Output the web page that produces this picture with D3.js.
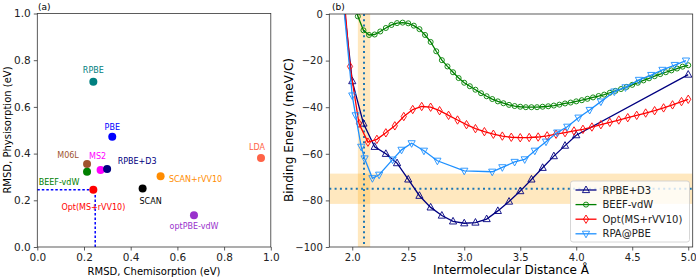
<!DOCTYPE html>
<html>
<head>
<meta charset="utf-8">
<script src="https://cdn.jsdelivr.net/npm/d3@7"></script>
<style>
  body { margin: 0; background: #fff; }
  svg { font-family: "DejaVu Sans", sans-serif; }
</style>
</head>
<body>
<div id="chart"></div>
<script>
// ---- panel (a) data ----
const methods = ["RPBE", "PBE", "M06L", "MS2", "RPBE+D3", "BEEF-vdW", "Opt(MS+rVV10)", "SCAN", "SCAN+rVV10", "LDA", "optPBE-vdW"];
const chemRmsd = [0.240, 0.321, 0.213, 0.271, 0.299, 0.213, 0.240, 0.451, 0.528, 0.958, 0.671];
const physRmsd = [0.708, 0.472, 0.355, 0.330, 0.334, 0.322, 0.245, 0.251, 0.303, 0.381, 0.136];
const methodColors = ["#008080", "#0000ff", "#a0522d", "#ff00ff", "#000080", "#008000", "#ff0000", "#000000", "#ff8c00", "#ff6347", "#9932cc"];
// label offsets from point (px)
const labelDx = [0, 0, -19, -3, 30, -28, 0, 8, 35, -4, 0];
const labelDy = [-9, -7, -6, -11, -5, 13, 20, 16, 6, -8, 14];
const guideA = { x: 0.248, y: 0.245 };
const ticksA = [0, 0.2, 0.4, 0.6, 0.8, 1.0];

// ---- panel (b) data ----
const rpbeD3X = [1.9, 2.0, 2.1, 2.2, 2.3, 2.4, 2.5, 2.6, 2.7, 2.8, 2.9, 3.0, 3.1, 3.2, 3.3, 3.4, 3.5, 3.6, 3.7, 3.8, 3.9, 4.0, 5.0];
const rpbeD3Y = [15, -28.8, -47, -57, -60, -64, -71, -78, -83, -86.5, -89, -89.8, -89.5, -88, -84.5, -80.5, -76, -71, -66, -61, -56.5, -52, -26];

const beefX = [2.0, 2.05, 2.1, 2.15, 2.2, 2.25, 2.3, 2.35, 2.4, 2.45, 2.5, 2.55, 2.6, 2.65, 2.7, 2.75, 2.8, 2.85, 2.9, 2.95,
  3.0, 3.05, 3.1, 3.15, 3.2, 3.25, 3.3, 3.35, 3.4, 3.45, 3.5, 3.55, 3.6, 3.65, 3.7, 3.75, 3.8, 3.85, 3.9, 3.95,
  4.0, 4.05, 4.1, 4.15, 4.2, 4.25, 4.3, 4.35, 4.4, 4.45, 4.5, 4.55, 4.6, 4.65, 4.7, 4.75, 4.8, 4.85, 4.9, 4.95, 5.0];
const beefY = [12, -1, -7, -9, -8.8, -7.5, -6, -4.7, -3.9, -3.7, -4, -5, -6.5, -9, -12, -16, -19.8, -22.5, -25, -27.5,
  -29.5, -31, -32.5, -34, -35.3, -36.5, -37.5, -38.3, -39, -39.5, -39.8, -40, -40, -40, -39.8, -39.6, -39.3, -38.9, -38.4, -38,
  -37.5, -37, -36.4, -35.8, -35.2, -34.6, -33.8, -33, -32.2, -31.3, -30.4, -29.5, -28.5, -27.6, -26.7, -25.8, -25, -24.2, -23.4, -22.6, -22];

const optX = [1.9, 1.98, 2.06, 2.14, 2.22, 2.30, 2.38, 2.46, 2.54, 2.62, 2.70, 2.78, 2.86, 2.94, 3.02, 3.10, 3.18, 3.26, 3.34, 3.42,
  3.50, 3.58, 3.66, 3.74, 3.82, 3.90, 3.98, 4.06, 4.14, 4.22, 4.30, 4.38, 4.46, 4.54, 4.62, 4.70, 4.78, 4.86, 4.94, 5.0];
const optY = [22, -22.5, -47, -55, -53.8, -51, -48, -44, -41, -39.7, -40, -41.5, -43.5, -45.5, -47.5, -49.2, -50.5, -51.6, -52.4, -52.9,
  -53.1, -53, -52.8, -52.3, -51.6, -50.9, -50.2, -49.5, -48.5, -47.5, -46.5, -45.5, -44.5, -43.5, -42.5, -41.5, -40.3, -39, -37.6, -36.6];

const rpaX = [1.9, 2.0, 2.03, 2.08, 2.11, 2.18, 2.24, 2.36, 2.44, 2.53, 2.64, 2.76, 3.0, 3.25, 3.34, 3.45, 3.54, 3.63, 3.73, 3.83,
  3.92, 4.02, 4.12, 4.22, 4.34, 4.44, 4.56, 4.67, 4.77, 4.88, 4.98];
const rpaY = [15, -35, -43.5, -57, -62, -70.5, -69, -62.5, -58.3, -55.5, -58.7, -63, -67.3, -67.7, -65.8, -63.5, -62.4, -58.7, -54.8, -50.9,
  -48.4, -44.5, -41.2, -37.6, -33.3, -31.5, -28.3, -26.2, -24, -21.9, -20];

const bandCenterX = 2.105, bandHalfX = 0.055;
const bandCenterY = -75, bandHalfY = 6.5;
const ticksBX = [2.0, 2.5, 3.0, 3.5, 4.0, 4.5, 5.0];
const ticksBY = [0, -20, -40, -60, -80, -100];

const W = 696, H = 280;
const svg = d3.select("#chart").append("svg").attr("width", W).attr("height", H);
const axisColor = "#333";

// ================= panel (a) =================
const xa = d3.scaleLinear().domain([0, 1]).range([37.3, 270.8]);
const ya = d3.scaleLinear().domain([0, 1]).range([247, 13.5]);
const ga = svg.append("g");

const drawAxes = (g, x, y, xt, yt, fmtX, fmtY, fs) => {
  const gx = g.append("g").attr("transform", `translate(0,${y.range()[0]})`)
    .call(d3.axisBottom(x).tickValues(xt).tickSize(3.5).tickPadding(3).tickFormat(fmtX));
  const gy = g.append("g").attr("transform", `translate(${x.range()[0]},0)`)
    .call(d3.axisLeft(y).tickValues(yt).tickSize(3.5).tickPadding(3).tickFormat(fmtY));
  [gx, gy].forEach(a => {
    a.select(".domain").remove();
    a.selectAll("line").attr("stroke", axisColor).attr("stroke-width", 0.8);
    a.selectAll("text").attr("font-size", fs).attr("fill", "#222").attr("font-family", "DejaVu Sans");
  });
  g.append("rect")
    .attr("x", x.range()[0]).attr("y", y.range()[1])
    .attr("width", x.range()[1] - x.range()[0]).attr("height", y.range()[0] - y.range()[1])
    .attr("fill", "none").attr("stroke", axisColor).attr("stroke-width", 0.8);
};

// guide lines
ga.append("line").attr("x1", xa(0)).attr("x2", xa(guideA.x)).attr("y1", ya(guideA.y)).attr("y2", ya(guideA.y))
  .attr("stroke", "blue").attr("stroke-width", 1.5).attr("stroke-dasharray", "2.5,2");
ga.append("line").attr("x1", xa(guideA.x)).attr("x2", xa(guideA.x)).attr("y1", ya(0)).attr("y2", ya(guideA.y))
  .attr("stroke", "blue").attr("stroke-width", 1.5).attr("stroke-dasharray", "2.5,2");

const pts = methods.map((m, i) => ({ m, x: chemRmsd[i], y: physRmsd[i], c: methodColors[i], dx: labelDx[i], dy: labelDy[i] }));
ga.selectAll("circle.pt").data(pts).join("circle")
  .attr("cx", d => xa(d.x)).attr("cy", d => ya(d.y)).attr("r", 4).attr("fill", d => d.c);
ga.selectAll("text.lab").data(pts).join("text")
  .attr("x", d => xa(d.x) + d.dx).attr("y", d => ya(d.y) + d.dy)
  .attr("text-anchor", "middle").attr("font-size", 8).attr("fill", d => d.c).text(d => d.m);

drawAxes(ga, xa, ya, ticksA, ticksA, d3.format(".1f"), d3.format(".1f"), 10.5);
ga.append("text").attr("x", 38).attr("y", 10).attr("font-size", 9).text("(a)");
ga.append("text").attr("x", (xa.range()[0] + xa.range()[1]) / 2).attr("y", 275)
  .attr("text-anchor", "middle").attr("font-size", 10).text("RMSD, Chemisorption (eV)");
ga.append("text").attr("transform", `translate(11,130) rotate(-90)`)
  .attr("text-anchor", "middle").attr("font-size", 10).text("RMSD, Physisorption (eV)");

// ================= panel (b) =================
const xb = d3.scaleLinear().domain([1.795, 5.04]).range([329.3, 692.7]);
const yb = d3.scaleLinear().domain([-100, 0]).range([247, 14]);
const gb = svg.append("g");
svg.append("clipPath").attr("id", "clipb").append("rect")
  .attr("x", 329.3).attr("y", 14).attr("width", 692.7 - 329.3).attr("height", 247 - 14);
const plot = gb.append("g").attr("clip-path", "url(#clipb)");

// bands
plot.append("rect").attr("x", xb(bandCenterX - bandHalfX)).attr("width", xb(bandCenterX + bandHalfX) - xb(bandCenterX - bandHalfX))
  .attr("y", 14).attr("height", 233).attr("fill", "orange").attr("opacity", 0.25);
plot.append("rect").attr("x", 329.3).attr("width", 692.7 - 329.3)
  .attr("y", yb(bandCenterY + bandHalfY)).attr("height", yb(bandCenterY - bandHalfY) - yb(bandCenterY + bandHalfY))
  .attr("fill", "orange").attr("opacity", 0.25);
plot.append("line").attr("x1", xb(bandCenterX)).attr("x2", xb(bandCenterX)).attr("y1", 14).attr("y2", 247)
  .attr("stroke", "#1f77b4").attr("stroke-width", 2).attr("stroke-dasharray", "2,3.3");
plot.append("line").attr("x1", 329.3).attr("x2", 692.7).attr("y1", yb(bandCenterY)).attr("y2", yb(bandCenterY))
  .attr("stroke", "#1f77b4").attr("stroke-width", 2).attr("stroke-dasharray", "2,3.3");

const triUp = "M0,-4L3.6,2.6L-3.6,2.6Z";
const triDown = "M0,4L3.6,-2.6L-3.6,-2.6Z";
const circ = d3.symbol().type(d3.symbolCircle).size(20)();
const thinDia = "M0,-4.2L2.6,0L0,4.2L-2.6,0Z";

const series = [
  { name: "RPBE+D3", xs: rpbeD3X, ys: rpbeD3Y, color: "#000080", marker: triUp },
  { name: "BEEF-vdW", xs: beefX, ys: beefY, color: "#008000", marker: circ },
  { name: "Opt(MS+rVV10)", xs: optX, ys: optY, color: "#ff0000", marker: thinDia },
  { name: "RPA@PBE", xs: rpaX, ys: rpaY, color: "#1e90ff", marker: triDown }
];
const line = d3.line().x(d => xb(d[0])).y(d => yb(d[1]));
series.forEach(s => {
  const data = s.xs.map((x, i) => [x, s.ys[i]]);
  const g = plot.append("g");
  g.append("path").datum(data).attr("d", line).attr("fill", "none").attr("stroke", s.color).attr("stroke-width", 1.3);
  g.selectAll("path.mk").data(data).join("path").attr("class", "mk")
    .attr("d", s.marker).attr("transform", d => `translate(${xb(d[0])},${yb(d[1])})`)
    .attr("fill", "none").attr("stroke", s.color).attr("stroke-width", 0.9);
});

const minus = v => (v < 0 ? "\u2212" + Math.abs(v) : String(v));
drawAxes(gb, xb, yb, ticksBX, ticksBY, d3.format(".1f"), minus, 10);
gb.append("text").attr("x", 332).attr("y", 10).attr("font-size", 9).text("(b)");
gb.append("text").attr("x", (xb.range()[0] + xb.range()[1]) / 2).attr("y", 274)
  .attr("text-anchor", "middle").attr("font-size", 12).text("Intermolecular Distance Å");
gb.append("text").attr("transform", `translate(293,130) rotate(-90)`)
  .attr("text-anchor", "middle").attr("font-size", 12).text("Binding Energy (meV/C)");

// legend
const lg = gb.append("g").attr("transform", "translate(570.5,181)");
lg.append("rect").attr("width", 119).attr("height", 61).attr("rx", 2.5)
  .attr("fill", "white").attr("fill-opacity", 0.8).attr("stroke", "#ccc").attr("stroke-width", 0.8);
series.forEach((s, i) => {
  const y = 9 + i * 14.6;
  lg.append("line").attr("x1", 5).attr("x2", 26).attr("y1", y).attr("y2", y).attr("stroke", s.color).attr("stroke-width", 1.3);
  lg.append("path").attr("d", s.marker).attr("transform", `translate(15.5,${y})`)
    .attr("fill", "none").attr("stroke", s.color).attr("stroke-width", 0.9);
  lg.append("text").attr("x", 32).attr("y", y + 3.6).attr("font-size", 10).attr("fill", "#222").text(s.name);
});
</script>
</body>
</html>
